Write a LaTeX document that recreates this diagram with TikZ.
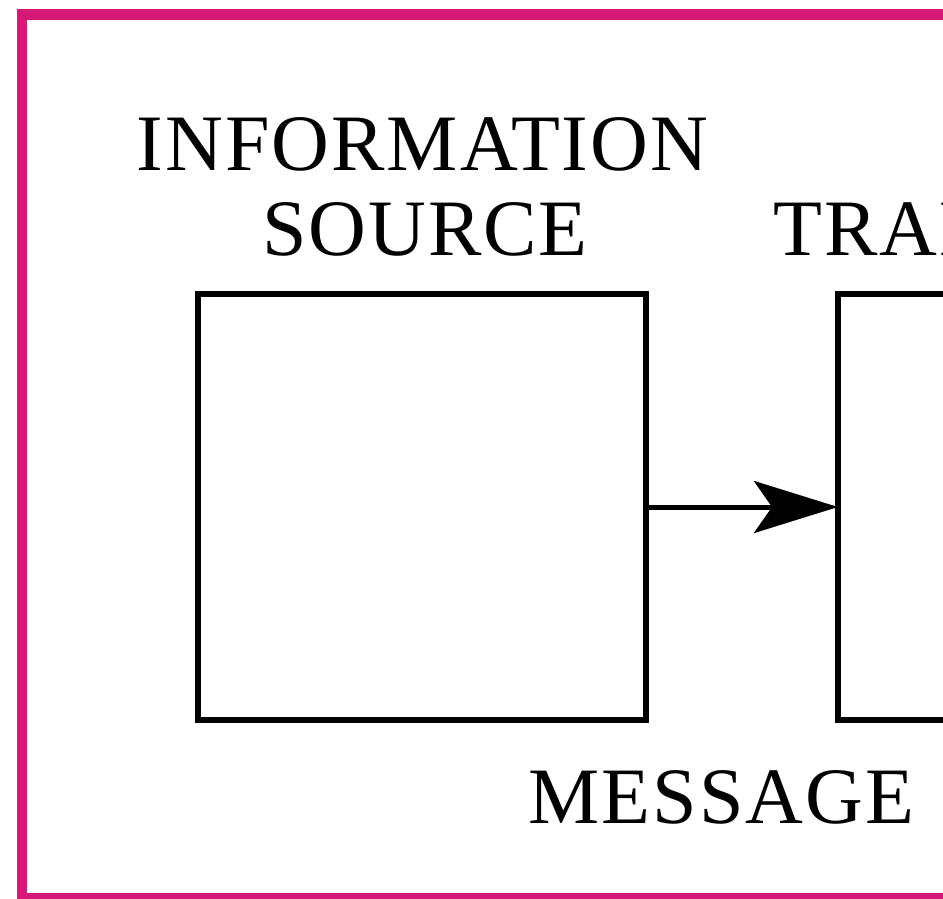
\documentclass[tikz,border=0pt]{standalone}
\usepackage{fontspec}
\setmainfont{Liberation Serif}[LetterSpace=2.5]
\usetikzlibrary{arrows.meta}
\definecolor{framemag}{RGB}{212,25,118}
\tikzset{
  blockbox/.style={draw=black, line width=5.5pt, minimum width=448pt, minimum height=426pt, inner sep=0pt, outer sep=0pt},
  lbl/.style={font=\fontsize{80}{85}\selectfont, inner sep=0pt, text=black},
  conn/.style={line width=5pt, -{Stealth[length=84pt,width=52pt,inset=18pt]}}
}
\begin{document}
\begin{tikzpicture}[x=1pt,y=-1pt]
\useasboundingbox (0,0) rectangle (943,898);
\clip (0,0) rectangle (943,898);
\fill[white] (0,0) rectangle (943,898);
\draw[framemag, line width=10.5pt] (22,14.5) rectangle (1100,898.5);
\node[blockbox] (src) at (422,507) {};
\node[blockbox, anchor=west] (tx) at (838,507) {};
\draw[conn] (src.east) -- (tx.west);
\node[lbl, anchor=base] (info1) at (422.5,170) {INFORMATION};
\node[lbl, anchor=base] (info2) at (425,255) {SOURCE};
\node[lbl, anchor=base west] (trans) at (773,255) {TRANSMITTER};
\node[lbl, anchor=base] (msg) at (721.5,823) {MESSAGE};
\end{tikzpicture}
\end{document}
